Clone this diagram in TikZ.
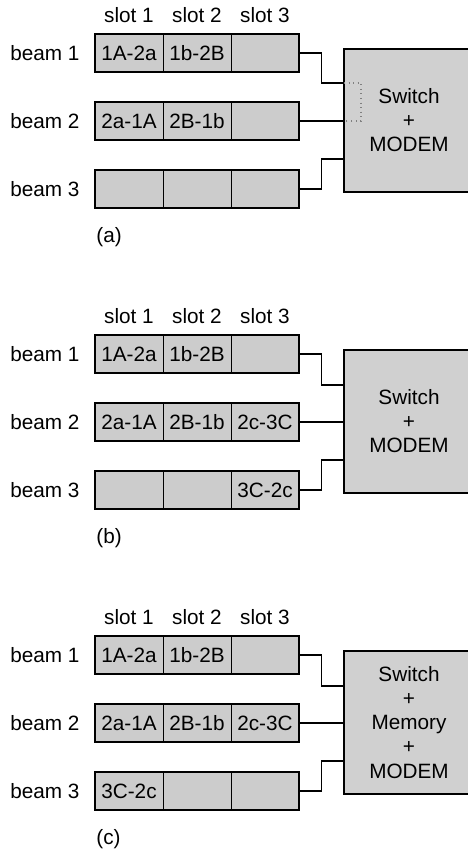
\documentclass[tikz,border=0pt]{standalone}
\usepackage{fontspec}
\setmainfont{Liberation Sans}
\usetikzlibrary{positioning}
\definecolor{slotgray}{RGB}{204,204,204}
\definecolor{boxgray}{RGB}{208,208,208}

\begin{document}
\begin{tikzpicture}[x=0.02cm, y=-0.02cm,
      cell/.style={draw, line width=0.5pt, fill=slotgray, minimum width=1.36cm, minimum height=0.76cm, inner sep=0pt, font=\fontsize{11.8}{14}\selectfont},
      frame/.style={line width=1.2pt},
      lbl/.style={inner sep=0pt, font=\fontsize{11.8}{14}\selectfont},
      switchbox/.style={draw, line width=1.2pt, fill=boxgray, minimum width=2.6cm, minimum height=2.86cm, align=center, font=\fontsize{11.8}{13.7}\selectfont},
      wire/.style={line width=0.6pt},
      bridge/.style={draw=gray, dotted, line width=0.6pt}
    ]
      \useasboundingbox (0,0) rectangle (467,852);

      % (a) fixed slots
      \node[lbl] (sa1) at (129,15) {slot 1};
      \node[lbl] (sa2) at (197,15) {slot 2};
      \node[lbl] (sa3) at (265,15) {slot 3};
      \node[lbl, anchor=west] (ba1) at (10,53) {beam 1};
      \node[lbl, anchor=west] (ba2) at (10,121) {beam 2};
      \node[lbl, anchor=west] (ba3) at (10,189) {beam 3};

      \node[cell] (a11) at (129,53) {1A-2a};
      \node[cell] (a12) at (197,53) {1b-2B};
      \node[cell] (a13) at (265,53) {};
      \node[cell] (a21) at (129,121) {2a-1A};
      \node[cell] (a22) at (197,121) {2B-1b};
      \node[cell] (a23) at (265,121) {};
      \node[cell] (a31) at (129,189) {};
      \node[cell] (a32) at (197,189) {};
      \node[cell] (a33) at (265,189) {};
      \draw[frame] (a11.north west) rectangle (a13.south east);
      \draw[frame] (a21.north west) rectangle (a23.south east);
      \draw[frame] (a31.north west) rectangle (a33.south east);

      \node[switchbox] (swa) at (409,120.5) {Switch\\+\\MODEM};
      \coordinate (ja1) at (344,83);
      \coordinate (ja3) at (344,159);
      \draw[wire] (a13.east) -- ++(22,0) |- (ja1);
      \draw[wire] (a23.east) -- (swa.west |- a23.east);
      \draw[wire] (a33.east) -- ++(22,0) |- (ja3);
      \draw[bridge] (ja1) -- ++(17,0) |- (swa.west |- a23.east);
      \node[lbl, anchor=west] (pa) at (96,237) {(a)};

      % (b) third slot in use
      \begin{scope}[shift={(0,301)}]
        \node[lbl] (sb1) at (129,15) {slot 1};
        \node[lbl] (sb2) at (197,15) {slot 2};
        \node[lbl] (sb3) at (265,15) {slot 3};
        \node[lbl, anchor=west] (bb1) at (10,53) {beam 1};
        \node[lbl, anchor=west] (bb2) at (10,121) {beam 2};
        \node[lbl, anchor=west] (bb3) at (10,189) {beam 3};

        \node[cell] (b11) at (129,53) {1A-2a};
        \node[cell] (b12) at (197,53) {1b-2B};
        \node[cell] (b13) at (265,53) {};
        \node[cell] (b21) at (129,121) {2a-1A};
        \node[cell] (b22) at (197,121) {2B-1b};
        \node[cell] (b23) at (265,121) {2c-3C};
        \node[cell] (b31) at (129,189) {};
        \node[cell] (b32) at (197,189) {};
        \node[cell] (b33) at (265,189) {3C-2c};
        \draw[frame] (b11.north west) rectangle (b13.south east);
        \draw[frame] (b21.north west) rectangle (b23.south east);
        \draw[frame] (b31.north west) rectangle (b33.south east);

        \node[switchbox] (swb) at (409,120.5) {Switch\\+\\MODEM};
        \coordinate (jb1) at (344,84);
        \coordinate (jb3) at (344,159);
        \draw[wire] (b13.east) -- ++(22,0) |- (jb1);
        \draw[wire] (b23.east) -- (swb.west |- b23.east);
        \draw[wire] (b33.east) -- ++(22,0) |- (jb3);
        \node[lbl, anchor=west] (pb) at (96,237) {(b)};
      \end{scope}

      % (c) with memory
      \begin{scope}[shift={(0,602)}]
        \node[lbl] (sc1) at (129,15) {slot 1};
        \node[lbl] (sc2) at (197,15) {slot 2};
        \node[lbl] (sc3) at (265,15) {slot 3};
        \node[lbl, anchor=west] (bc1) at (10,53) {beam 1};
        \node[lbl, anchor=west] (bc2) at (10,121) {beam 2};
        \node[lbl, anchor=west] (bc3) at (10,189) {beam 3};

        \node[cell] (c11) at (129,53) {1A-2a};
        \node[cell] (c12) at (197,53) {1b-2B};
        \node[cell] (c13) at (265,53) {};
        \node[cell] (c21) at (129,121) {2a-1A};
        \node[cell] (c22) at (197,121) {2B-1b};
        \node[cell] (c23) at (265,121) {2c-3C};
        \node[cell] (c31) at (129,189) {3C-2c};
        \node[cell] (c32) at (197,189) {};
        \node[cell] (c33) at (265,189) {};
        \draw[frame] (c11.north west) rectangle (c13.south east);
        \draw[frame] (c21.north west) rectangle (c23.south east);
        \draw[frame] (c31.north west) rectangle (c33.south east);

        \node[switchbox] (swc) at (409,120.5) {Switch\\+\\Memory\\+\\MODEM};
        \coordinate (jc1) at (344,84);
        \coordinate (jc3) at (344,159);
        \draw[wire] (c13.east) -- ++(22,0) |- (jc1);
        \draw[wire] (c23.east) -- (swc.west |- c23.east);
        \draw[wire] (c33.east) -- ++(22,0) |- (jc3);
        \node[lbl, anchor=west] (pc) at (96,237) {(c)};
      \end{scope}
    \end{tikzpicture}
\end{document}
